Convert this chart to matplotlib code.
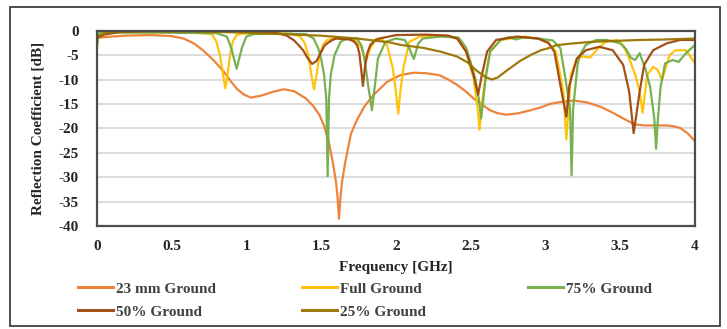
import matplotlib
matplotlib.use("Agg")
import matplotlib.pyplot as plt
from matplotlib.patches import Rectangle

# ---------------- data ----------------
f_23mm = [0, 0.02, 0.1, 0.2, 0.36, 0.5, 0.58, 0.65, 0.71, 0.78, 0.85, 0.9, 0.94, 0.98, 1.03,
          1.1, 1.18, 1.25, 1.32, 1.40, 1.45, 1.49, 1.52, 1.55, 1.58, 1.60, 1.61, 1.62, 1.63,
          1.64, 1.66, 1.70, 1.74, 1.79, 1.85, 1.94, 2.03, 2.12, 2.2, 2.29, 2.35, 2.41, 2.47,
          2.52, 2.58, 2.63, 2.68, 2.74, 2.82, 2.90, 2.97, 3.03, 3.10, 3.19, 3.28, 3.37, 3.45,
          3.54, 3.60, 3.66, 3.74, 3.81, 3.86, 3.90, 3.95, 4.0]
s_23mm = [-1.5, -1.4, -1.2, -1.0, -0.9, -1.1, -1.6, -2.6, -4.0, -6.0, -8.4, -10.5, -12.0, -13.0, -13.7,
          -13.3, -12.5, -12.0, -12.4, -13.9, -15.5, -17.3, -19.5, -22.5, -27.2, -31.0, -34.0, -38.5, -34.0,
          -31.0, -27.2, -21.1, -18.3, -15.5, -13.2, -10.5, -9.1, -8.6, -8.7, -9.1, -10.0, -11.1, -12.5,
          -13.9, -15.2, -16.3, -16.9, -17.2, -16.9, -16.3, -15.7, -15.0, -14.6, -14.3, -14.7, -15.6, -16.8,
          -18.3, -19.2, -19.4, -19.4, -19.4, -19.6, -19.9, -21.0, -22.6]

f_full = [0, 0.01, 0.03, 0.1, 0.3, 0.6, 0.77, 0.80, 0.824, 0.845, 0.86, 0.875, 0.891, 0.91, 0.936,
          0.97, 1.1, 1.3, 1.36, 1.39, 1.415, 1.435, 1.453, 1.47, 1.49, 1.515, 1.54, 1.6, 1.67,
          1.73, 1.77, 1.80, 1.83, 1.87, 1.91, 1.94, 1.98, 2.0, 2.016, 2.03, 2.05, 2.09, 2.16,
          2.3, 2.41, 2.47, 2.52, 2.545, 2.56, 2.575, 2.60, 2.63, 2.70, 2.86, 2.95, 3.02, 3.07,
          3.12, 3.14, 3.17, 3.21, 3.25, 3.30, 3.34, 3.40, 3.48, 3.52, 3.56, 3.6, 3.63, 3.65,
          3.68, 3.72, 3.75, 3.78, 3.83, 3.87, 3.94, 4.0]
s_full = [-4.0, -1.5, -0.3, -0.2, -0.2, -0.3, -0.7, -2.2, -5.0, -9.0, -11.8, -9.0, -5.0, -2.2, -0.9,
          -0.6, -0.5, -0.6, -1.2, -2.5, -5.0, -9.0, -12.0, -9.0, -5.0, -2.8, -1.9, -1.5, -1.6,
          -2.0, -3.5, -6.2, -3.5, -1.6, -1.8, -2.9, -7.7, -12.5, -17.0, -12.5, -7.7, -2.3, -1.2,
          -0.9, -1.6, -4.3, -9.8, -15.5, -20.3, -15.0, -9.1, -4.3, -1.9, -1.2, -1.6, -2.5, -4.3,
          -12.5, -22.3, -9.1, -5.7, -5.3, -5.5, -4.0, -2.3, -1.9, -3.0, -5.7, -9.0, -12.5, -16.8,
          -9.1, -7.4, -8.0, -10.1, -5.0, -4.0, -4.0, -6.7]

f_75 = [0, 0.01, 0.02, 0.04, 0.1, 0.4, 0.8, 0.87, 0.90, 0.92, 0.936, 0.95, 0.97, 1.0, 1.05,
        1.2, 1.4, 1.45, 1.48, 1.50, 1.52, 1.535, 1.544, 1.553, 1.565, 1.59, 1.63, 1.67,
        1.74, 1.77, 1.79, 1.815, 1.84, 1.86, 1.88, 1.93, 2.0, 2.06, 2.09, 2.12, 2.15, 2.18,
        2.3, 2.42, 2.47, 2.50, 2.53, 2.555, 2.57, 2.585, 2.60, 2.63, 2.70, 2.76, 2.80, 2.85,
        2.95, 3.05, 3.10, 3.13, 3.165, 3.175, 3.185, 3.215, 3.23, 3.27, 3.34, 3.41, 3.50,
        3.54, 3.57, 3.60, 3.63, 3.67, 3.70, 3.728, 3.74, 3.752, 3.77, 3.80, 3.85, 3.89,
        3.94, 4.0]
s_75 = [-3.6, -1.0, -0.2, -0.3, -0.4, -0.4, -0.5, -1.2, -3.6, -6.0, -7.8, -6.0, -3.6, -1.2, -0.7,
        -0.6, -0.7, -1.6, -3.5, -5.7, -9.0, -14.0, -29.8, -14.0, -9.0, -5.0, -2.3, -1.6,
        -1.6, -3.0, -5.7, -11.2, -16.3, -11.2, -5.7, -2.3, -1.6, -1.9, -3.6, -5.8, -2.6, -1.6,
        -1.2, -1.4, -3.5, -6.5, -9.8, -14.0, -18.0, -14.0, -9.8, -4.3, -1.9, -1.3, -1.8, -1.4,
        -1.6, -2.0, -3.6, -9.1, -16.0, -29.6, -16.0, -7.0, -5.0, -2.9, -1.9, -1.9, -2.6,
        -3.8, -5.5, -6.0, -4.6, -8.0, -11.5, -18.0, -24.2, -18.0, -11.5, -6.7, -6.0, -6.4,
        -4.6, -2.9]

f_50 = [0, 0.05, 0.15, 0.3, 0.8, 1.15, 1.22, 1.27, 1.32, 1.36, 1.38, 1.41, 1.44, 1.47, 1.49,
        1.52, 1.54, 1.57, 1.60, 1.69, 1.72, 1.74, 1.755, 1.765, 1.78, 1.795, 1.81, 1.83, 1.86,
        1.89, 2.0, 2.2, 2.35, 2.41, 2.47, 2.52, 2.55, 2.575, 2.61, 2.67, 2.81, 2.95, 3.02,
        3.06, 3.10, 3.14, 3.16, 3.21, 3.27, 3.36, 3.45, 3.52, 3.56, 3.59, 3.63, 3.66, 3.72,
        3.81, 3.90, 4.0]
s_50 = [-1.5, -0.8, -0.3, -0.1, -0.1, -0.3, -0.6, -1.0, -2.0, -3.3, -4.0, -5.6, -6.8, -6.2, -5.0,
        -3.2, -2.6, -2.0, -1.6, -1.8, -2.2, -2.9, -4.5, -7.0, -11.3, -7.0, -4.5, -2.9, -2.0,
        -1.6, -0.9, -0.8, -1.0, -1.6, -4.3, -9.1, -13.1, -9.1, -4.3, -1.9, -1.2, -1.6, -2.5,
        -4.3, -11.2, -17.6, -11.2, -5.7, -4.0, -3.3, -4.0, -7.0, -12.5, -21.0, -12.5, -7.0, -4.0,
        -2.6, -1.9, -1.9]

f_25 = [0, 0.05, 0.1, 0.3, 0.6, 1.0, 1.4, 1.49, 1.74, 1.96, 2.03, 2.18, 2.30, 2.41, 2.48, 2.54,
        2.60, 2.64, 2.68, 2.74, 2.83, 2.90, 2.97, 3.03, 3.07, 3.15, 3.30, 3.45, 3.63, 3.80, 4.0]
s_25 = [-1.2, -0.6, -0.3, -0.1, -0.1, -0.4, -0.9, -1.0, -1.6, -2.4, -2.9, -3.5, -4.3, -5.3, -6.5, -8.2,
        -9.5, -10.0, -9.6, -8.2, -6.2, -5.0, -4.0, -3.5, -3.0, -2.7, -2.3, -2.1, -1.9, -1.8, -1.6]

series_names = ["23 mm Ground", "Full Ground", "75% Ground", "50% Ground", "25% Ground"]
series_colors = ["#ED7D31", "#FFC000", "#70AD47", "#9E480E", "#997300"]

x_ticks = [0, 0.5, 1, 1.5, 2, 2.5, 3, 3.5, 4]
x_tick_labels = ["0", "0.5", "1", "1.5", "2", "2.5", "3", "3.5", "4"]
y_ticks = [0, -5, -10, -15, -20, -25, -30, -35, -40]
y_tick_labels = ["0", "-5", "-10", "-15", "-20", "-25", "-30", "-35", "-40"]

x_label = "Frequency [GHz]"
y_label = "Reflection Coefficient [dB]"

# ---------------- figure ----------------
W, H = 727, 329
plt.rcParams['font.family'] = ['Liberation Serif', 'DejaVu Serif']
plt.rcParams['font.weight'] = 'bold'

fig = plt.figure(figsize=(W / 100, H / 100), dpi=100)
ax = fig.add_axes([96.7 / W, 1 - 226 / H, (695 - 96.7) / W, (226 - 30.7) / H])

data = [(f_23mm, s_23mm), (f_full, s_full), (f_75, s_75), (f_50, s_50), (f_25, s_25)]
handles = []
for (fx, sy), name, col in zip(data, series_names, series_colors):
    h, = ax.plot(fx, sy, color=col, lw=1.6, label=name, solid_joinstyle='round', alpha=0.95)
    handles.append(h)

ax.set_xlim(0, 4)
ax.set_ylim(-40, 0)
ax.set_xticks(x_ticks)
ax.set_xticklabels(x_tick_labels)
ax.set_yticks(y_ticks)
ax.set_yticklabels(y_tick_labels)
ax.tick_params(length=0, labelsize=11, colors='#262626')
ax.tick_params(axis='x', pad=10)
ax.tick_params(axis='y', pad=13)
for lab in ax.get_xticklabels() + ax.get_yticklabels():
    lab.set_fontweight('bold')

ax.yaxis.grid(True, color='#D9D9D9', lw=1.3)
ax.set_axisbelow(True)
for sp in ax.spines.values():
    sp.set_color('#4D4D4D')
    sp.set_linewidth(1.6)

ax.set_xlabel(x_label, fontsize=11, fontweight='bold', color='#262626', labelpad=6)
ax.set_ylabel(y_label, fontsize=11, fontweight='bold', color='#262626', labelpad=10)

# legend: three columns placed like the reference
col_x = [78 / W, 302 / W, 528 / W]
cols = [[0, 3], [1, 4], [2]]
for cx, idxs in zip(col_x, cols):
    leg = fig.legend([handles[i] for i in idxs], [series_names[i] for i in idxs],
                     loc='upper left', bbox_to_anchor=(cx, 1 - 282 / H),
                     frameon=False, handlelength=2.3, handletextpad=0.2,
                     labelspacing=0.6, borderpad=0, borderaxespad=0,
                     prop={'weight': 'bold', 'size': 11})
    for t in leg.get_texts():
        t.set_color('#404040')
    for l in leg.get_lines():
        l.set_linewidth(2.2)

# outer border
fig.add_artist(Rectangle((10 / W, 3 / H), 710 / W, (326 - 7) / H, transform=fig.transFigure,
                         fill=False, edgecolor='#404040', lw=1.3))

fig.savefig("out.png", dpi=100)
